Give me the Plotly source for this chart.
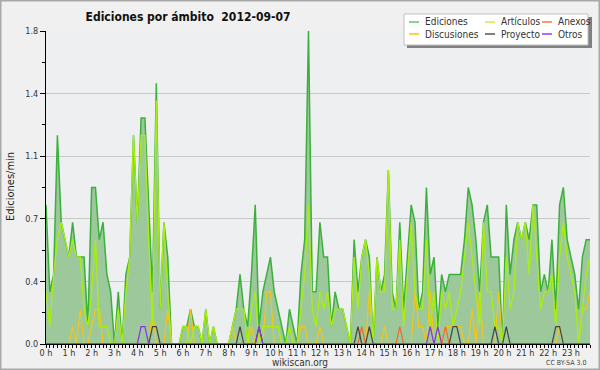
import plotly.graph_objects as go

# 10-minute bins, values in edits/min
ediciones = [0.8,0.3,0.4,1.2,0.7,0.6,0.5,0.7,0.5,0.5,0.5,0.1,0.9,0.9,0.6,0.7,0.4,0.3,0.0,0.3,
             0.0,0.4,0.5,1.2,0.7,1.3,1.3,0.8,0.3,1.5,0.2,0.7,0.5,0.0,0.0,0.0,0.1,0.1,0.2,0.1,
             0.1,0.0,0.2,0.0,0.1,0.0,0.0,0.0,0.0,0.1,0.2,0.4,0.2,0.1,0.4,0.8,0.1,0.3,0.4,0.5,
             0.3,0.2,0.1,0.0,0.2,0.1,0.0,0.4,0.6,1.8,0.3,0.3,0.7,0.5,0.5,0.1,0.3,0.2,0.2,0.1,
             0.0,0.6,0.3,0.5,0.6,0.5,0.0,0.5,0.3,0.4,1.0,0.3,0.2,0.7,0.2,0.5,0.8,0.7,0.2,0.3,
             0.9,0.4,0.5,0.1,0.4,0.3,0.4,0.4,0.4,0.4,0.6,0.9,0.8,0.6,0.3,0.7,0.8,0.5,0.5,0.5,
             0.0,0.8,0.4,0.6,0.7,0.6,0.7,0.6,0.8,0.8,0.3,0.4,0.3,0.6,0.2,0.8,0.9,0.6,0.5,0.4,
             0.2,0.5,0.6,0.6]
articulos = [0.3,0.1,0.4,0.6,0.7,0.6,0.5,0.6,0.5,0.5,0.2,0.1,0.3,0.6,0.1,0.1,0.1,0.0,0.0,0.2,
             0.0,0.3,0.5,1.2,0.7,1.2,1.2,0.6,0.1,1.4,0.2,0.7,0.3,0.0,0.0,0.0,0.1,0.1,0.0,0.1,
             0.1,0.0,0.2,0.0,0.1,0.0,0.0,0.0,0.0,0.1,0.2,0.2,0.2,0.0,0.2,0.3,0.0,0.1,0.1,0.1,
             0.1,0.1,0.0,0.0,0.1,0.0,0.0,0.2,0.4,0.8,0.2,0.1,0.3,0.2,0.3,0.1,0.2,0.2,0.2,0.1,
             0.0,0.5,0.2,0.5,0.6,0.4,0.0,0.5,0.3,0.3,1.0,0.2,0.2,0.6,0.1,0.4,0.7,0.3,0.2,0.2,
             0.6,0.1,0.3,0.0,0.3,0.2,0.3,0.1,0.2,0.3,0.5,0.7,0.5,0.3,0.1,0.7,0.3,0.3,0.1,0.1,
             0.0,0.5,0.2,0.3,0.7,0.6,0.7,0.4,0.8,0.5,0.2,0.3,0.3,0.4,0.1,0.5,0.7,0.5,0.4,0.3,
             0.0,0.2,0.4,0.5]
discusiones = [0.0]*144
for i, v in {7:0.1, 9:0.2, 12:0.1, 13:0.2, 14:0.2, 28:0.2, 32:0.2, 38:0.2, 49:0.1, 54:0.1,
             58:0.3, 59:0.3, 67:0.1, 68:0.1, 72:0.1, 85:0.3, 89:0.1, 97:0.3, 98:0.1, 99:0.1,
             101:0.3, 105:0.1, 106:0.1, 107:0.1, 108:0.1, 109:0.1, 112:0.2, 114:0.3, 119:0.3,
             135:0.1, 141:0.2, 142:0.2, 143:0.3}.items():
    discusiones[i] = v
proyecto = [0.0]*144
for i in [28, 29, 51, 56, 82, 85, 107, 108, 118, 121, 134, 135]:
    proyecto[i] = 0.1
anexos = [0.0]*144
for i in [83, 93, 105]:
    anexos[i] = 0.1
otros = [0.0]*144
for i in [25, 26, 56, 101, 103]:
    otros[i] = 0.1

hours = [i / 6 for i in range(len(ediciones))]
hour_ticks = list(range(24))
hour_labels = [f"{h} h" for h in hour_ticks]
y_ticks = [0, 0.36, 0.72, 1.08, 1.44, 1.8]
y_labels = ["0.0", "0.4", "0.7", "1.1", "1.4", "1.8"]

FONT = "DejaVu Sans Condensed, DejaVu Sans, sans-serif"

fig = go.Figure()
fig.add_trace(go.Scatter(x=hours, y=ediciones, mode="lines", fill="tozeroy",
                         fillcolor="#9cc89c", line=dict(color="#3cb03c", width=1.5),
                         name="Ediciones"))
fig.add_trace(go.Scatter(x=hours, y=discusiones, mode="lines",
                         line=dict(color="#f5c518", width=1.2), name="Discusiones"))
fig.add_trace(go.Scatter(x=hours, y=articulos, mode="lines",
                         line=dict(color="#aaee10", width=1.3), name="Artículos"))
fig.add_trace(go.Scatter(x=hours, y=anexos, mode="lines",
                         line=dict(color="#f06a2a", width=1.2), name="Anexos"))
fig.add_trace(go.Scatter(x=hours, y=proyecto, mode="lines",
                         line=dict(color="#444444", width=1.2), name="Proyecto"))
fig.add_trace(go.Scatter(x=hours, y=otros, mode="lines",
                         line=dict(color="#8a30e8", width=1.2), name="Otros"))

L, R, T, B = 46, 590, 31, 344
def px(x):
    return (x - L) / (R - L)
def py(y):
    return (B - y) / (B - T)

shapes = [
    # outer border
    dict(type="rect", xref="paper", yref="paper", x0=px(0.5), x1=px(599.5), y0=py(369.5), y1=py(0.5),
         line=dict(color="#a8a8a8", width=2), fillcolor="rgba(0,0,0,0)", layer="below"),
    # legend shadow and box
    dict(type="rect", xref="paper", yref="paper", x0=px(407), x1=px(592), y0=py(48), y1=py(17),
         line=dict(width=0), fillcolor="#808080"),
    dict(type="rect", xref="paper", yref="paper", x0=px(404), x1=px(588), y0=py(45), y1=py(14),
         line=dict(color="#c0c0c0", width=1), fillcolor="#ffffff"),
]
legend_items = [
    ("Ediciones", "#5cc85c", 409, 22), ("Artículos", "#c8f040", 485, 22), ("Anexos", "#f07848", 542, 22),
    ("Discusiones", "#f5c518", 409, 34), ("Proyecto", "#555555", 485, 34), ("Otros", "#9040e8", 542, 34),
]
annotations = []
for name, col, lx, ly in legend_items:
    shapes.append(dict(type="line", xref="paper", yref="paper", x0=px(lx), x1=px(lx + 10),
                       y0=py(ly), y1=py(ly), line=dict(color=col, width=1.5)))
    annotations.append(dict(text=name, xref="paper", yref="paper", x=px(lx + 14), y=py(ly),
                            xanchor="left", yanchor="middle", showarrow=False,
                            font=dict(family=FONT, size=10, color="#333333")))

annotations += [
    dict(text="Ediciones/min", xref="paper", yref="paper", x=px(10), y=py(187), textangle=-90,
         showarrow=False, xanchor="center", yanchor="middle",
         font=dict(family=FONT, size=11, color="#222222")),
    dict(text="wikiscan.org", xref="paper", yref="paper", x=px(300), y=py(362),
         showarrow=False, xanchor="center", yanchor="middle",
         font=dict(family=FONT, size=10, color="#333333")),
    dict(text="CC BY-SA 3.0", xref="paper", yref="paper", x=px(588), y=py(363),
         showarrow=False, xanchor="right", yanchor="middle",
         font=dict(family=FONT, size=7, color="#444444")),
]

fig.update_layout(
    width=600, height=370,
    margin=dict(l=L, r=600 - R, t=T, b=370 - B, pad=0),
    paper_bgcolor="#f0f0f0", plot_bgcolor="#eeeff1",
    showlegend=False,
    title=dict(text="Ediciones por ámbito\u00a0 2012-09-07", x=188 / 600, y=1 - 17 / 370,
               xanchor="center", yanchor="middle",
               font=dict(family=FONT, size=12, color="#111111", weight="bold")),
    shapes=shapes, annotations=annotations,
    xaxis=dict(range=[0, 143 / 6], tickvals=hour_ticks, ticktext=hour_labels,
               showgrid=False, zeroline=False, showline=True, linecolor="#000000", linewidth=1,
               ticks="outside", ticklen=3, tickcolor="#000000",
               tickfont=dict(family=FONT, size=9, color="#333333"),
               minor=dict(dtick=1 / 6, tick0=0, ticks="outside", ticklen=3, tickcolor="#000000", showgrid=False)),
    yaxis=dict(range=[0, 1.8], tickvals=y_ticks, ticktext=y_labels,
               showgrid=True, gridcolor="#c8c8c8", gridwidth=1, zeroline=False,
               showline=True, linecolor="#000000", linewidth=1,
               ticks="outside", ticklen=5, tickcolor="#000000",
               tickfont=dict(family=FONT, size=9, color="#333333"),
               minor=dict(tickvals=[0.18, 0.54, 0.9, 1.26, 1.62], ticks="outside", ticklen=3,
                          tickcolor="#000000", showgrid=False)),
)
try:
    fig.update_xaxes(ticklabelstandoff=-3)
except Exception:
    pass

fig.write_html("out.html", config={"displayModeBar": False},
               post_script="document.body.style.margin='0';document.body.style.padding='0';"
                           "document.documentElement.style.overflow='hidden';")
